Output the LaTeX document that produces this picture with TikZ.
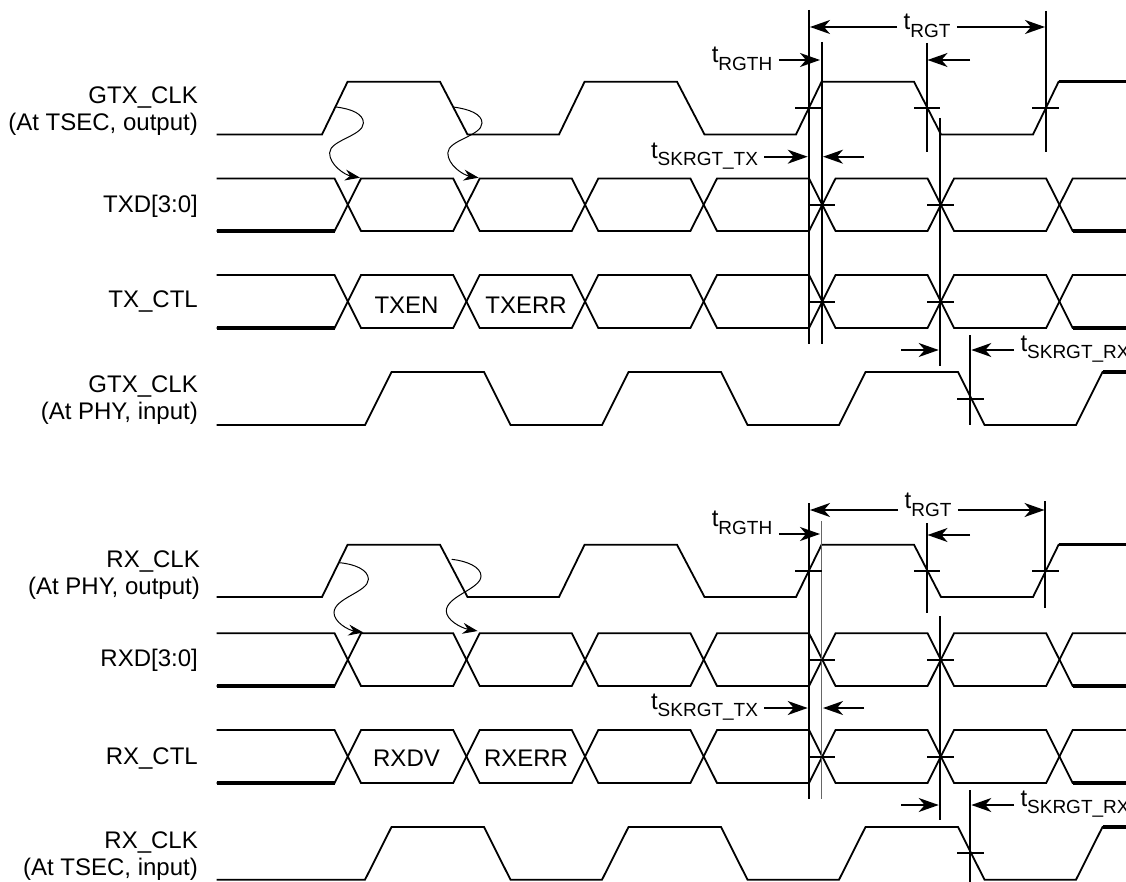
\documentclass[tikz,border=0pt]{standalone}
\usepackage{fontspec}
\setmainfont{Liberation Sans}
\usetikzlibrary{arrows.meta}

\newcommand{\timing}[1]{t\raisebox{-7.5pt}{\fontsize{19}{19}\selectfont #1}}

\tikzset{
    wave/.style={line width=1.8pt,line join=miter},
    heavy/.style={line width=3.2pt},
    cursor/.style={line width=1.9pt},
    tick/.style={line width=1.7pt},
    signal/.style={anchor=east,align=right,inner sep=0pt},
    timelabel/.style={inner sep=0pt,outer sep=6.5pt},
    dim/.style={->,line width=1.7pt},
    launch/.style={-{Stealth[length=15pt,width=11pt,inset=5pt]},line width=1pt},
    >={Stealth[length=20pt,width=14pt,inset=6pt]}
}

\begin{document}
\begin{tikzpicture}[x=1pt,y=-1pt,font=\fontsize{24}{27}\selectfont]

    \useasboundingbox (0,0) rectangle (1126,882);

    % signal names
    \node[signal] (gtx out) at (198,111) {GTX\_CLK\\(At TSEC, output)};
    \node[signal] (txd) at (198,206) {TXD[3:0]};
    \node[signal] (tx ctl) at (198,302) {TX\_CTL};
    \node[signal] (gtx in) at (198,400) {GTX\_CLK\\(At PHY, input)};
    \node[signal] (rx out) at (200,575.5) {RX\_CLK\\(At PHY, output)};
    \node[signal] (rxd) at (198,660.5) {RXD[3:0]};
    \node[signal] (rx ctl) at (198,758) {RX\_CTL};
    \node[signal] (rx in) at (198,856.5) {RX\_CLK\\(At TSEC, input)};

    \node (txen) at (406.5,305) {TXEN};
    \node (txerr) at (526,305) {TXERR};
    \node (rxdv) at (406.5,758) {RXDV};
    \node (rxerr) at (526,758) {RXERR};

    % clocks
    \draw[wave] (216.5,134.5) -- (322,134.5) -- (347.6,81.7) -- (440,81.7) -- (467.5,134.5) -- (559,134.5) -- (584.6,81.7) -- (677,81.7) -- (704.5,134.5) -- (796,134.5) -- (821.6,81.7) -- (914,81.7) -- (941,134.5) -- (1033,134.5) -- (1058.6,81.7) -- (1126,81.7);
    \draw[heavy] (1058.6,81.7) -- (1126,81.7);
    \draw[wave] (216.5,425) -- (365,425) -- (391.5,372) -- (484,372) -- (510.5,425) -- (602,425) -- (628.5,372) -- (721,372) -- (747.5,425) -- (839,425) -- (865.5,372) -- (958,372) -- (984.5,425) -- (1076,425) -- (1102.5,372) -- (1126,372);
    \draw[heavy] (1102.5,372) -- (1126,372);
    \draw[wave] (216.5,597) -- (322,597) -- (347.6,544.7) -- (440,544.7) -- (467.5,597) -- (559,597) -- (584.6,544.7) -- (677,544.7) -- (704.5,597) -- (796,597) -- (821.6,544.7) -- (914,544.7) -- (941,597) -- (1033,597) -- (1058.6,544.7) -- (1126,544.7);
    \draw[heavy] (1058.6,544.7) -- (1126,544.7);
    \draw[wave] (216.5,879.7) -- (365,879.7) -- (391.5,827) -- (484,827) -- (510.5,879.7) -- (602,879.7) -- (628.5,827) -- (721,827) -- (747.5,879.7) -- (839,879.7) -- (865.5,827) -- (958,827) -- (984.5,879.7) -- (1076,879.7) -- (1102.5,827) -- (1126,827);
    \draw[heavy] (1102.5,827) -- (1126,827);

    % TXD
    \draw[wave] (216.5,178.5) -- (334.6,178.5) -- (361,231) -- (453.2,231) -- (479.7,178.5) -- (571.8,178.5) -- (598.3,231) -- (690.4,231) -- (717,178.5) -- (809,178.5) -- (835.5,231) -- (927.6,231) -- (954,178.5) -- (1046.2,178.5) -- (1072.7,231) -- (1126,231);
    \draw[wave] (216.5,231) -- (334.6,231) -- (361,178.5) -- (453.2,178.5) -- (479.7,231) -- (571.8,231) -- (598.3,178.5) -- (690.4,178.5) -- (717,231) -- (809,231) -- (835.5,178.5) -- (927.6,178.5) -- (954,231) -- (1046.2,231) -- (1072.7,178.5) -- (1126,178.5);
    \draw[heavy] (216.5,231) -- (334.6,231);
    \draw[heavy] (1072.7,231) -- (1126,231);

    % TX_CTL
    \draw[wave] (216.5,275) -- (334.6,275) -- (361,328) -- (453.2,328) -- (479.7,275) -- (571.8,275) -- (598.3,328) -- (690.4,328) -- (717,275) -- (809,275) -- (835.5,328) -- (927.6,328) -- (954,275) -- (1046.2,275) -- (1072.7,328) -- (1126,328);
    \draw[wave] (216.5,328) -- (334.6,328) -- (361,275) -- (453.2,275) -- (479.7,328) -- (571.8,328) -- (598.3,275) -- (690.4,275) -- (717,328) -- (809,328) -- (835.5,275) -- (927.6,275) -- (954,328) -- (1046.2,328) -- (1072.7,275) -- (1126,275);
    \draw[heavy] (216.5,328) -- (334.6,328);
    \draw[heavy] (1072.7,328) -- (1126,328);

    % RXD
    \draw[wave] (216.5,633.3) -- (334.6,633.3) -- (361,686) -- (453.2,686) -- (479.7,633.3) -- (571.8,633.3) -- (598.3,686) -- (690.4,686) -- (717,633.3) -- (809,633.3) -- (835.5,686) -- (927.6,686) -- (954,633.3) -- (1046.2,633.3) -- (1072.7,686) -- (1126,686);
    \draw[wave] (216.5,686) -- (334.6,686) -- (361,633.3) -- (453.2,633.3) -- (479.7,686) -- (571.8,686) -- (598.3,633.3) -- (690.4,633.3) -- (717,686) -- (809,686) -- (835.5,633.3) -- (927.6,633.3) -- (954,686) -- (1046.2,686) -- (1072.7,633.3) -- (1126,633.3);
    \draw[heavy] (216.5,686) -- (334.6,686);
    \draw[heavy] (1072.7,686) -- (1126,686);

    % RX_CTL
    \draw[wave] (216.5,730) -- (334.6,730) -- (361,783) -- (453.2,783) -- (479.7,730) -- (571.8,730) -- (598.3,783) -- (690.4,783) -- (717,730) -- (809,730) -- (835.5,783) -- (927.6,783) -- (954,730) -- (1046.2,730) -- (1072.7,783) -- (1126,783);
    \draw[wave] (216.5,783) -- (334.6,783) -- (361,730) -- (453.2,730) -- (479.7,783) -- (571.8,783) -- (598.3,730) -- (690.4,730) -- (717,783) -- (809,783) -- (835.5,730) -- (927.6,730) -- (954,783) -- (1046.2,783) -- (1072.7,730) -- (1126,730);
    \draw[heavy] (216.5,783) -- (334.6,783);
    \draw[heavy] (1072.7,783) -- (1126,783);

    % launch edges
    \draw[launch] (336,107) .. controls (352,109) and (363.4,114) .. (363.4,123) .. controls (363.4,136) and (329.6,140) .. (329.6,153) .. controls (329.6,165) and (345,175) .. (360,177.7);
    \draw[launch] (453,107) .. controls (469,109) and (482,114) .. (482,123) .. controls (482,136) and (447.8,140) .. (447.8,153) .. controls (447.8,165) and (463,175) .. (478.6,177.7);
    \draw[launch] (339.3,562.7) .. controls (355,564) and (368.4,570) .. (368.4,579.3) .. controls (368.4,592) and (334,598) .. (334,612.7) .. controls (334,622) and (348,630) .. (363.4,632.5);
    \draw[launch] (451.7,559.3) .. controls (467,561) and (481,567) .. (481,576) .. controls (481,589) and (446.3,596) .. (446.3,611) .. controls (446.3,620) and (461,628) .. (477.6,631);

    % cursors, upper half
    \draw[cursor] (809,10) -- (809,344.3);
    \draw[cursor] (822,42) -- (822,344.3);
    \draw[cursor] (927,43) -- (927,151.7);
    \draw[cursor] (1045.7,11) -- (1045.7,151.7);
    \draw[cursor] (940,118) -- (940,365.7);
    \draw[cursor] (970,335) -- (970,425);

    \draw[tick] (795,108) -- (821.7,108);
    \draw[tick] (914,108) -- (940,108);
    \draw[tick] (1032,108) -- (1059,108);
    \draw[tick] (809.7,204.7) -- (835,204.7);
    \draw[tick] (927,204.7) -- (954,204.7);
    \draw[tick] (809.7,301.7) -- (835,301.7);
    \draw[tick] (927,301.7) -- (954,301.7);
    \draw[tick] (957,398.7) -- (984,398.7);

    % cursors, lower half
    \draw[cursor] (809,503.3) -- (809,799.3);
    \draw[line width=1.2pt,draw=black!60] (821.3,521) -- (821.3,799.3);
    \draw[cursor] (927,523.3) -- (927,613.3);
    \draw[cursor] (1045,501.3) -- (1045,608.3);
    \draw[cursor] (940,616) -- (940,819.7);
    \draw[cursor] (970,790.3) -- (970,882);

    \draw[tick] (795,570.7) -- (821.7,570.7);
    \draw[tick] (914,570.7) -- (940,570.7);
    \draw[tick] (1032,570.7) -- (1059,570.7);
    \draw[tick] (809.7,659.7) -- (835,659.7);
    \draw[tick] (927,659.7) -- (954,659.7);
    \draw[tick] (809.7,756.7) -- (835,756.7);
    \draw[tick] (927,756.7) -- (954,756.7);
    \draw[tick] (957,853) -- (984,853);

    % timing labels, upper half
    \node[timelabel] (rgt up) at (927,26) {\timing{RGT}};
    \coordinate (rgt up left) at (810,27);
    \coordinate (rgt up right) at (1045,27);
    \draw[dim] (rgt up.west |- rgt up left) -- (rgt up left);
    \draw[dim] (rgt up.east |- rgt up right) -- (rgt up right);

    \node[timelabel] (rgth up) at (742,59) {\timing{RGTH}};
    \coordinate (rgth up tip) at (820,60);
    \coordinate (rgth up back) at (970,60);
    \coordinate (rgth up end) at (927.5,60);
    \draw[dim] (rgth up.east |- rgth up tip) -- (rgth up tip);
    \draw[dim] (rgth up back) -- (rgth up end);

    \node[timelabel] (skew tx up) at (704.5,156) {\timing{SKRGT\_TX}};
    \coordinate (skew tx up tip) at (807.7,156.7);
    \coordinate (skew tx up back) at (864,156.7);
    \coordinate (skew tx up end) at (823,156.7);
    \draw[dim] (skew tx up.east |- skew tx up tip) -- (skew tx up tip);
    \draw[dim] (skew tx up back) -- (skew tx up end);

    \node[timelabel,anchor=west] (skew rx up) at (1014,349) {\timing{SKRGT\_RX}};
    \coordinate (skew rx up tip) at (971.3,350);
    \coordinate (skew rx up back) at (901,350);
    \coordinate (skew rx up end) at (938.7,350);
    \draw[dim] (skew rx up.west |- skew rx up tip) -- (skew rx up tip);
    \draw[dim] (skew rx up back) -- (skew rx up end);

    % timing labels, lower half
    \node[timelabel] (rgt low) at (928,505) {\timing{RGT}};
    \coordinate (rgt low left) at (810,510);
    \coordinate (rgt low right) at (1044.5,510);
    \draw[dim] (rgt low.west |- rgt low left) -- (rgt low left);
    \draw[dim] (rgt low.east |- rgt low right) -- (rgt low right);

    \node[timelabel] (rgth low) at (742,523) {\timing{RGTH}};
    \coordinate (rgth low tip) at (820,534);
    \coordinate (rgth low back) at (970,535);
    \coordinate (rgth low end) at (927.5,535);
    \draw[dim] (rgth low.east |- rgth low tip) -- (rgth low tip);
    \draw[dim] (rgth low back) -- (rgth low end);

    \node[timelabel] (skew tx low) at (704.5,707) {\timing{SKRGT\_TX}};
    \coordinate (skew tx low tip) at (807.7,708);
    \coordinate (skew tx low back) at (864,708);
    \coordinate (skew tx low end) at (823,708);
    \draw[dim] (skew tx low.east |- skew tx low tip) -- (skew tx low tip);
    \draw[dim] (skew tx low back) -- (skew tx low end);

    \node[timelabel,anchor=west] (skew rx low) at (1014,804) {\timing{SKRGT\_RX}};
    \coordinate (skew rx low tip) at (971.3,805);
    \coordinate (skew rx low back) at (901,805);
    \coordinate (skew rx low end) at (938.7,805);
    \draw[dim] (skew rx low.west |- skew rx low tip) -- (skew rx low tip);
    \draw[dim] (skew rx low back) -- (skew rx low end);

\end{tikzpicture}
\end{document}
